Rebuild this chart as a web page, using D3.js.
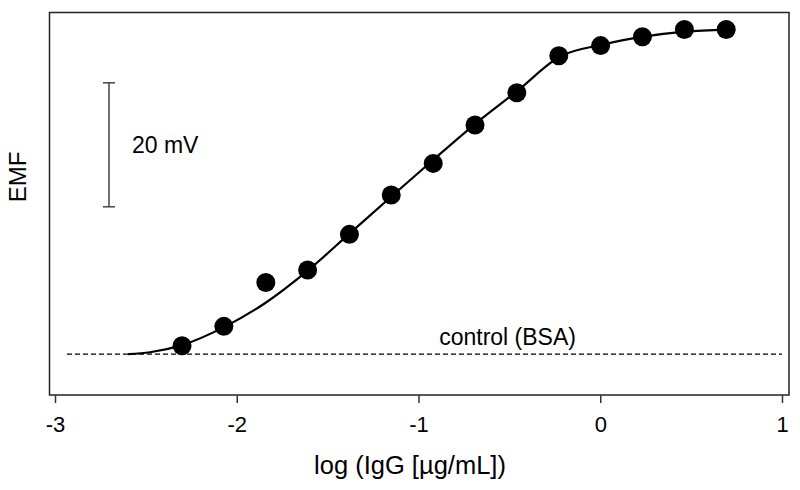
<!DOCTYPE html>
<html>
<head>
<meta charset="utf-8">
<script src="https://cdn.jsdelivr.net/npm/d3@7"></script>
<style>
  body { margin: 0; background: #fff; }
  text { font-family: 'Liberation Sans', Arial, sans-serif; fill: #000; }
</style>
</head>
<body>
<div id="chart"></div>
<script>
// log(IgG) concentrations of the measured samples
var logConc = [-2.301, -2.071, -1.840, -1.610, -1.380, -1.150, -0.919, -0.689, -0.459, -0.228, 0.002, 0.232, 0.463, 0.693];
// EMF relative to the BSA control, mV
var emf = [1.34, 4.47, 11.56, 13.55, 19.31, 25.65, 30.76, 36.94, 42.15, 48.11, 49.76, 51.18, 52.37, 52.37];
// fitted curve
var fitX = [-2.598, -2.477, -2.301, -2.070, -1.845, -1.608, -1.377, -1.146, -0.920, -0.689, -0.458, -0.221, 0.010, 0.241, 0.466, 0.697];
var fitY = [0, 0.3, 1.45, 4.35, 8.2, 13.5, 19.5, 25.5, 31.3, 37.1, 42.4, 48.0, 49.9, 51.2, 52.0, 52.35];
var xTicks = [-3, -2, -1, 0, 1];
var controlLevel = 0;
var scaleBar = 20; // mV

var width = 800, height = 490;
var svg = d3.select("#chart").append("svg").attr("width", width).attr("height", height);

var x = d3.scaleLinear().domain([-3, 1]).range([55, 782]);
var y = d3.scaleLinear().domain([-6.6, 55.1]).range([395, 12.5]);

// frame
svg.append("rect").attr("x", 49.5).attr("y", 12.5).attr("width", 739.5).attr("height", 382.5)
    .attr("fill", "none").attr("stroke", "#222").attr("stroke-width", 1.5);

// x axis
var xAxis = svg.append("g").attr("transform", "translate(0,395)")
    .call(d3.axisBottom(x).tickValues(xTicks).tickFormat(d3.format("d")).tickSize(8).tickPadding(13));
xAxis.select(".domain").remove();
xAxis.selectAll("line").attr("stroke", "#333").attr("stroke-width", 1.5);
xAxis.selectAll("text").attr("font-size", 22).attr("font-family", "'Liberation Sans', Arial, sans-serif").text(d => d < 0 ? "-" + Math.abs(d) : d);

svg.append("text").attr("x", 410).attr("y", 474).attr("text-anchor", "middle").attr("font-size", 25.5)
    .text("log (IgG [µg/mL])");
svg.append("text").attr("transform", "translate(26,177) rotate(-90)").attr("text-anchor", "middle").attr("font-size", 24)
    .text("EMF");

// control line
svg.append("line").attr("x1", x(-2.934)).attr("x2", x(1)).attr("y1", y(controlLevel)).attr("y2", y(controlLevel))
    .attr("stroke", "#000").attr("stroke-width", 1.3).attr("stroke-dasharray", "5,3");
svg.append("text").attr("x", x(-0.51)).attr("y", y(controlLevel) - 9).attr("text-anchor", "middle").attr("font-size", 23)
    .text("control (BSA)");

// scale bar
var sbX = x(-2.703), sbBottom = 23.76;
var sb = svg.append("g").attr("stroke", "#444").attr("stroke-width", 1.5);
sb.append("line").attr("x1", sbX).attr("x2", sbX).attr("y1", y(sbBottom)).attr("y2", y(sbBottom + scaleBar));
sb.append("line").attr("x1", sbX - 6).attr("x2", sbX + 6).attr("y1", y(sbBottom)).attr("y2", y(sbBottom));
sb.append("line").attr("x1", sbX - 6).attr("x2", sbX + 6).attr("y1", y(sbBottom + scaleBar)).attr("y2", y(sbBottom + scaleBar));
svg.append("text").attr("x", sbX + 23).attr("y", y(sbBottom + scaleBar / 2) + 8).attr("font-size", 23)
    .text(scaleBar + " mV");

// fitted curve
var line = d3.line().x((d, i) => x(fitX[i])).y(d => y(d)).curve(d3.curveMonotoneX);
svg.append("path").datum(fitY).attr("d", line).attr("fill", "none").attr("stroke", "#000").attr("stroke-width", 2.2);

// points
svg.selectAll(".pt").data(emf).enter().append("circle").attr("class", "pt")
    .attr("cx", (d, i) => x(logConc[i])).attr("cy", d => y(d)).attr("r", 9.5).attr("fill", "#000");
</script>
</body>
</html>
